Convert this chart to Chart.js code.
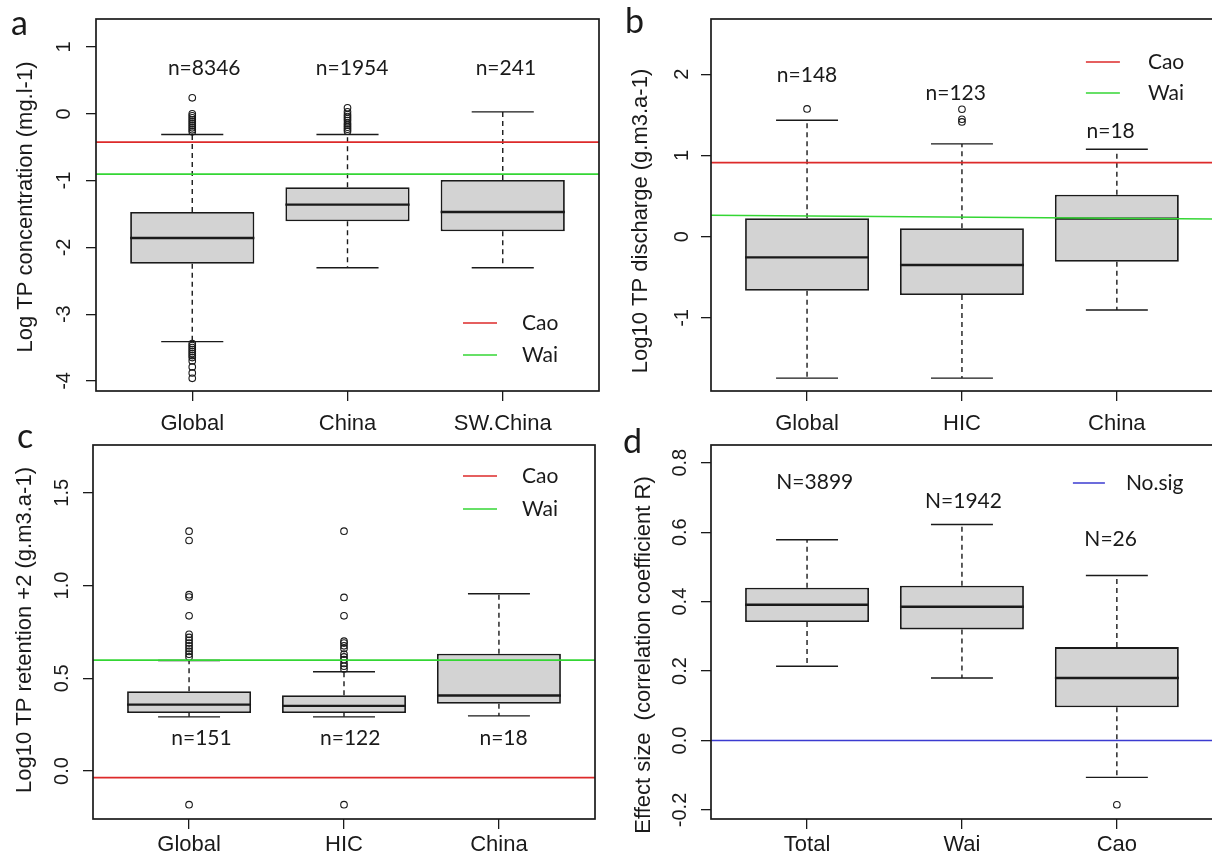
<!DOCTYPE html>
<html>
<head>
<meta charset="utf-8">
<script src="https://cdn.jsdelivr.net/npm/chart.js@4/dist/chart.umd.min.js"></script>
<style>
  html, body { margin: 0; padding: 0; background: #fff; overflow: hidden; }
  body { width: 1212px; height: 857px; position: relative; }
  canvas { position: absolute; }
</style>
</head>
<body>
<canvas id="pa" width="606" height="445" style="left:0;top:0"></canvas>
<canvas id="pb" width="612" height="445" style="left:606px;top:0"></canvas>
<canvas id="pc" width="606" height="429" style="left:0;top:428px"></canvas>
<canvas id="pd" width="612" height="429" style="left:606px;top:428px"></canvas>
<script>
// a - TP concentration
const catsA = ['Global', 'China', 'SW.China'];
const loA = [-3.41, -2.305, -2.305];
const q1A = [-2.245, -1.61, -1.757];
const medA = [-1.86, -1.36, -1.47];
const q3A = [-1.47, -1.10, -0.99];
const hiA = [-0.31, -0.31, 0.03];
const outA = [
  [0.24, 0.0, -0.03, -0.06, -0.09, -0.12, -0.15, -0.18, -0.21, -0.24, -0.27,
   -3.44, -3.47, -3.50, -3.53, -3.56, -3.59, -3.62, -3.65, -3.70, -3.79, -3.88, -3.96],
  [0.09, 0.03, -0.01, -0.04, -0.07, -0.10, -0.14, -0.17, -0.20, -0.23, -0.26],
  []
];
const nA = ['n=8346', 'n=1954', 'n=241'];
const caoA = [-0.424, -0.424];
const waiA = [-0.903, -0.903];

// b - TP discharge
const catsB = ['Global', 'HIC', 'China'];
const loB = [-1.741, -1.741, -0.903];
const q1B = [-0.665, -0.719, -0.308];
const medB = [-0.255, -0.349, 0.222];
const q3B = [0.226, 0.103, 0.517];
const hiB = [1.433, 1.142, 1.076];
const outB = [[1.573], [1.569, 1.446, 1.413], []];
const nB = ['n=148', 'n=123', 'n=18'];
const caoB = [0.912, 0.912];
const waiB = [0.263, 0.218];

// c - TP retention
const catsC = ['Global', 'HIC', 'China'];
const loC = [0.292, 0.292, 0.297];
const q1C = [0.313, 0.313, 0.362];
const medC = [0.358, 0.351, 0.407];
const q3C = [0.430, 0.409, 0.632];
const hiC = [0.596, 0.535, 0.956];
const outC = [
  [1.293, 1.243, 0.951, 0.938, 0.837, 0.737, 0.72, 0.705, 0.69, 0.675, 0.66, 0.645, 0.63, 0.615, -0.182],
  [1.293, 0.936, 0.837, 0.70, 0.69, 0.675, 0.66, 0.63, 0.615, 0.60, 0.58, 0.565, 0.55, -0.182],
  []
];
const nC = ['n=151', 'n=122', 'n=18'];
const caoC = [-0.036, -0.036];
const waiC = [0.598, 0.598];

// d - effect size
const catsD = ['Total', 'Wai', 'Cao'];
const loD = [0.214, 0.180, -0.106];
const q1D = [0.341, 0.320, 0.096];
const medD = [0.391, 0.385, 0.180];
const q3D = [0.440, 0.446, 0.269];
const hiD = [0.578, 0.622, 0.475];
const outD = [[], [], [-0.185]];
const nD = ['N=3899', 'N=1942', 'N=26'];
const noSigD = [0, 0];

const RED = '#dd2a2a', GREEN = '#34d634', BLUE = '#3b3bd0', INK = '#1a1a1a';
const X_MIN = 0.38, X_MAX = 3.62;
const AXIS_FONT = '"Liberation Sans", Arial, sans-serif';

const panels = [
  { id: 'pa', letter: 'a', cats: catsA, lo: loA, q1: q1A, med: medA, q3: q3A, hi: hiA, out: outA,
    n: nA, nx: [1.077, 2.03, 3.02], ny: [0.69, 0.69, 0.69],
    refs: [{ label: 'Cao', color: RED, v: caoA }, { label: 'Wai', color: GREEN, v: waiA }],
    yMin: -4.15, yMax: 1.42, step: 1, dec: 0, title: 'Log TP concentration (mg.l-1)',
    yw: 96, xh: 54, xPad: 10, pad: { top: 19, right: 7 }, titleX: 26, titleShift: 2, yLabOff: 32,
    leg: { seg: [136, 102], text: 77, rows: [323, 355] }, lx: 11, ly: 35 },
  { id: 'pb', letter: 'b', cats: catsB, lo: loB, q1: q1B, med: medB, q3: q3B, hi: hiB, out: outB,
    n: nB, nx: [1.0, 1.96, 2.96], ny: [1.99, 1.766, 1.294],
    refs: [{ label: 'Cao', color: RED, v: caoB }, { label: 'Wai', color: GREEN, v: waiB }],
    yMin: -1.90, yMax: 2.68, step: 1, dec: 0, title: 'Log10 TP discharge (g.m3.a-1)',
    yw: 105, xh: 54, xPad: 10, pad: { top: 19, right: 2 }, titleX: 35, titleShift: 16, yLabOff: 29,
    leg: { seg: [127, 93], text: 65, rows: [62, 93] }, lx: 19, ly: 33 },
  { id: 'pc', letter: 'c', cats: catsC, lo: loC, q1: q1C, med: medC, q3: q3C, hi: hiC, out: outC,
    n: nC, nx: [1.08, 2.04, 3.03], ny: [0.178, 0.178, 0.178],
    refs: [{ label: 'Cao', color: RED, v: caoC }, { label: 'Wai', color: GREEN, v: waiC }],
    yMin: -0.259, yMax: 1.758, step: 0.5, dec: 1, title: 'Log10 TP retention +2 (g.m3.a-1)',
    yw: 93, xh: 38, xPad: 3, pad: { top: 17, right: 11 }, titleX: 25, titleShift: -2, yLabOff: 31,
    leg: { seg: [132, 98], text: 73, rows: [48, 81] }, lx: 17, ly: 20 },
  { id: 'pd', letter: 'd', cats: catsD, lo: loD, q1: q1D, med: medD, q3: q3D, hi: hiD, out: outD,
    n: nD, nx: [1.05, 2.01, 2.96], ny: [0.745, 0.690, 0.579],
    refs: [{ label: 'No.sig', color: BLUE, v: noSigD }],
    yMin: -0.226, yMax: 0.851, step: 0.2, dec: 1, title: 'Effect size  (correlation coefficient R)',
    yw: 105, xh: 38, xPad: 3, pad: { top: 17, right: 2 }, titleX: 38, titleShift: 23, yLabOff: 31,
    leg: { seg: [140, 108], text: 87, rows: [55] }, lx: 17, ly: 25 }
];

function boxPlugin(p) {
  return {
    id: 'boxPlot',
    beforeDatasetsDraw(chart) {
      const { ctx } = chart;
      const x = chart.scales.x, y = chart.scales.y;
      ctx.save();
      ctx.strokeStyle = INK;
      ctx.lineWidth = 1.4;
      p.cats.forEach((c, i) => {
        const px = x.getPixelForValue(i + 1);
        const l = x.getPixelForValue(i + 0.8), r = x.getPixelForValue(i + 1.2);
        ctx.setLineDash([5, 4]);
        ctx.beginPath();
        ctx.moveTo(px, y.getPixelForValue(p.q3[i]));
        ctx.lineTo(px, y.getPixelForValue(p.hi[i]));
        ctx.moveTo(px, y.getPixelForValue(p.q1[i]));
        ctx.lineTo(px, y.getPixelForValue(p.lo[i]));
        ctx.stroke();
        ctx.setLineDash([]);
        ctx.beginPath();
        [p.hi[i], p.lo[i]].forEach(v => {
          const py = y.getPixelForValue(v);
          ctx.moveTo(l, py);
          ctx.lineTo(r, py);
        });
        ctx.stroke();
      });
      ctx.restore();
    },
    afterDatasetDraw(chart, args) {
      if (args.meta.type !== 'bar') return;
      const { ctx } = chart;
      const x = chart.scales.x, y = chart.scales.y;
      ctx.save();
      ctx.strokeStyle = INK;
      ctx.lineWidth = 2.4;
      ctx.beginPath();
      p.med.forEach((m, i) => {
        const py = y.getPixelForValue(m);
        ctx.moveTo(x.getPixelForValue(i + 0.6), py);
        ctx.lineTo(x.getPixelForValue(i + 1.4), py);
      });
      ctx.stroke();
      ctx.restore();
    },
    afterDraw(chart) {
      const { ctx, chartArea: a } = chart;
      const x = chart.scales.x, y = chart.scales.y;
      ctx.save();
      // frame
      ctx.strokeStyle = INK;
      ctx.lineWidth = 1.7;
      ctx.strokeRect(a.left, a.top, a.right - a.left, a.bottom - a.top);
      // rotated y tick labels, R style
      ctx.fillStyle = INK;
      ctx.font = '20px ' + AXIS_FONT;
      ctx.textAlign = 'center';
      ctx.textBaseline = 'middle';
      y.ticks.forEach(t => {
        ctx.save();
        ctx.translate(a.left - p.yLabOff, y.getPixelForValue(t.value));
        ctx.rotate(-Math.PI / 2);
        ctx.fillText(t.label, 0, 0);
        ctx.restore();
      });
      // y axis title
      ctx.save();
      ctx.font = '22px ' + AXIS_FONT;
      ctx.translate(p.titleX, (a.top + a.bottom) / 2 + p.titleShift);
      ctx.rotate(-Math.PI / 2);
      ctx.fillText(p.title, 0, 0);
      ctx.restore();
      // sample sizes
      ctx.font = '21px Lato, sans-serif';
      p.n.forEach((s, i) => {
        ctx.fillText(s, x.getPixelForValue(p.nx[i]), y.getPixelForValue(p.ny[i]));
      });
      // legend
      ctx.font = '21px Lato, sans-serif';
      ctx.textAlign = 'left';
      p.refs.forEach((r, i) => {
        const ry = p.leg.rows[i];
        ctx.strokeStyle = r.color;
        ctx.lineWidth = 1.6;
        ctx.beginPath();
        ctx.moveTo(a.right - p.leg.seg[0], ry);
        ctx.lineTo(a.right - p.leg.seg[1], ry);
        ctx.stroke();
        ctx.fillText(r.label, a.right - p.leg.text, ry);
      });
      // panel letter
      ctx.font = '34px Lato, sans-serif';
      ctx.textBaseline = 'alphabetic';
      ctx.fillText(p.letter, p.lx, p.ly);
      ctx.restore();
    }
  };
}

panels.forEach(p => {
  const refSets = p.refs.map(r => ({
    type: 'line',
    label: r.label,
    data: [{ x: X_MIN, y: r.v[0] }, { x: X_MAX, y: r.v[1] }],
    borderColor: r.color,
    borderWidth: 1.6,
    pointRadius: 0,
    tension: 0,
    fill: false
  }));
  const outliers = [];
  p.out.forEach((vals, i) => vals.forEach(v => outliers.push({ x: i + 1, y: v })));

  new Chart(document.getElementById(p.id), {
    type: 'bar',
    data: {
      datasets: [
        ...refSets,
        {
          type: 'scatter',
          label: 'outliers',
          data: outliers,
          pointStyle: 'circle',
          pointRadius: 3.3,
          borderWidth: 1.1,
          borderColor: INK,
          backgroundColor: 'rgba(0,0,0,0)'
        },
        {
          type: 'bar',
          label: 'box',
          data: p.cats.map((c, i) => ({ x: i + 1, y: [p.q1[i], p.q3[i]] })),
          backgroundColor: '#d3d3d3',
          borderColor: INK,
          borderWidth: 1.8,
          borderSkipped: false,
          barPercentage: 0.8,
          categoryPercentage: 1
        }
      ]
    },
    options: {
      responsive: false,
      animation: false,
      events: [],
      layout: { padding: { left: 0, top: p.pad.top, right: p.pad.right, bottom: 0 } },
      plugins: { legend: { display: false }, tooltip: { enabled: false } },
      scales: {
        x: {
          type: 'linear',
          min: X_MIN,
          max: X_MAX,
          offset: false,
          grid: { display: true, offset: false, drawOnChartArea: false, drawTicks: true, tickLength: 10, color: INK, lineWidth: 1.3 },
          border: { display: false },
          ticks: {
            stepSize: 1,
            includeBounds: false,
            autoSkip: false,
            maxRotation: 0,
            padding: p.xPad,
            color: INK,
            font: { family: AXIS_FONT, size: 22 },
            callback: v => p.cats[Math.round(v) - 1] || ''
          },
          afterFit: s => { s.height = p.xh; }
        },
        y: {
          type: 'linear',
          min: p.yMin,
          max: p.yMax,
          beginAtZero: false,
          grid: { display: true, drawOnChartArea: false, drawTicks: true, tickLength: 10, color: INK, lineWidth: 1.3 },
          border: { display: false },
          ticks: {
            display: false,
            stepSize: p.step,
            includeBounds: false,
            callback: v => (Math.abs(v) < 1e-9 ? 0 : v).toFixed(p.dec)
          },
          title: { display: false },
          afterFit: s => { s.width = p.yw; }
        }
      }
    },
    plugins: [boxPlugin(p)]
  });
});
</script>
</body>
</html>
